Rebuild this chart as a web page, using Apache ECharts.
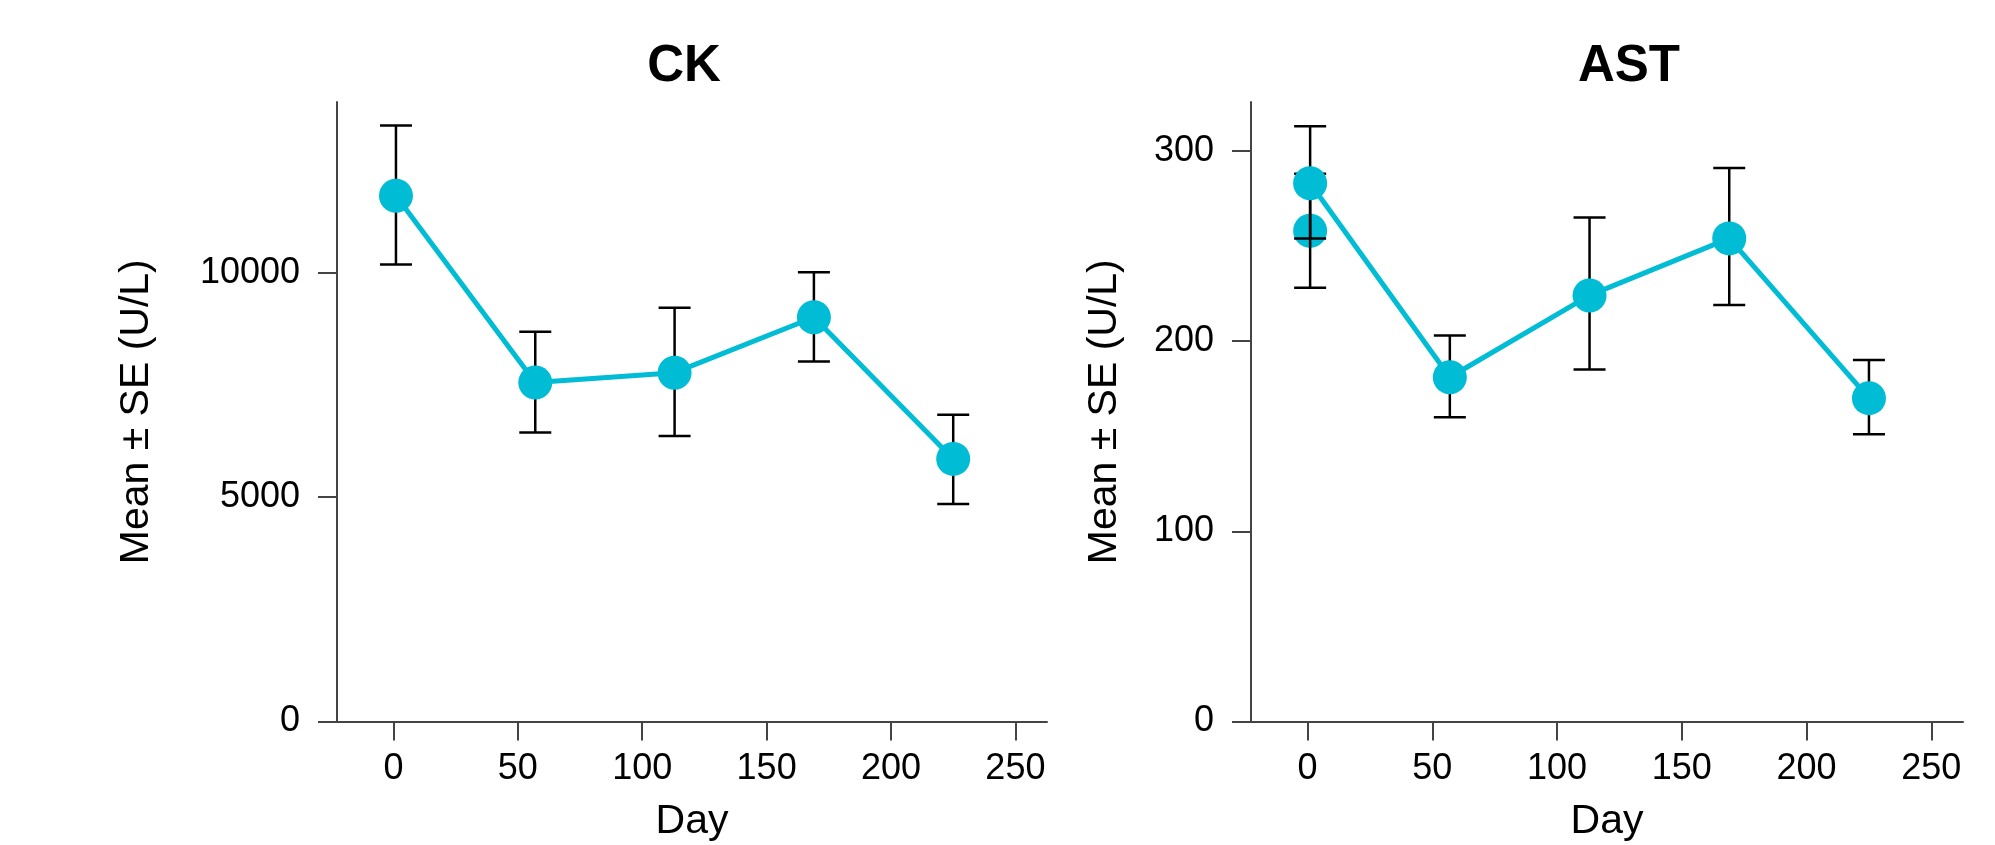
<!DOCTYPE html>
<html>
<head>
<meta charset="utf-8">
<script src="https://cdn.jsdelivr.net/npm/echarts@6/dist/echarts.min.js"></script>
<style>
  html, body { margin: 0; padding: 0; background: #fff; }
  #chart { width: 1995px; height: 845px; }
</style>
</head>
<body>
<div id="chart"></div>
<script>
// values
const days = [1, 57, 113, 169, 225];

const ckMean = [11710, 7550, 7770, 9005, 5850];
const ckUpper = [13275, 8680, 9215, 10010, 6835];
const ckLower = [10180, 6440, 6360, 8020, 4845];

const astMean = [283, 181, 224, 254, 170];
const astUpper = [313, 203, 265, 291, 190];
const astLower = [254, 160, 185, 219, 151];

// second day-1 point on AST (not joined to the line)
const astExtraDay = [1];
const astExtraMean = [258];
const astExtraUpper = [288];
const astExtraLower = [228];

const xTicks = [0, 50, 100, 150, 200, 250];
const ckTicks = [0, 5000, 10000];
const astTicks = [0, 100, 200, 300];

const teal = '#00BCD4';
const axisGrey = '#444';
const font = 'Liberation Sans, Arial, sans-serif';

const chart = echarts.init(document.getElementById('chart'));

function pairs(xs, ys) {
  return xs.map((x, i) => [x, ys[i]]);
}

function bars(xs, lo, hi) {
  return xs.map((x, i) => [x, lo[i], hi[i]]);
}

function errorBarItem(params, api) {
  const x = api.value(0);
  const lo = api.coord([x, api.value(1)]);
  const hi = api.coord([x, api.value(2)]);
  const half = 16;
  const style = { stroke: '#000', lineWidth: 2.5 };
  return {
    type: 'group',
    children: [
      { type: 'line', shape: { x1: lo[0], y1: hi[1], x2: lo[0], y2: lo[1] }, style },
      { type: 'line', shape: { x1: lo[0] - half, y1: hi[1], x2: lo[0] + half, y2: hi[1] }, style },
      { type: 'line', shape: { x1: lo[0] - half, y1: lo[1], x2: lo[0] + half, y2: lo[1] }, style }
    ]
  };
}

function xAxisFor(gridIndex) {
  return {
    type: 'value',
    gridIndex,
    min: -22.7,
    max: 262.7,
    name: 'Day',
    nameLocation: 'middle',
    nameGap: 80,
    nameTextStyle: { fontSize: 41, color: '#000', fontFamily: font },
    splitLine: { show: false },
    axisLine: { onZero: false, lineStyle: { color: axisGrey, width: 2 } },
    axisTick: { customValues: xTicks, length: 19, lineStyle: { color: axisGrey, width: 2 } },
    axisLabel: { customValues: xTicks, margin: 30, fontSize: 36, color: '#000', fontFamily: font,
      formatter: v => String(v) }
  };
}

function yAxisFor(gridIndex, max, ticks, gap) {
  return {
    type: 'value',
    gridIndex,
    min: 0,
    max,
    name: 'Mean ± SE (U/L)',
    nameLocation: 'middle',
    nameGap: gap,
    nameTextStyle: { fontSize: 41, color: '#000', fontFamily: font },
    splitLine: { show: false },
    axisLine: { show: true, onZero: false, lineStyle: { color: axisGrey, width: 2 } },
    axisTick: { show: true, customValues: ticks, length: 19, lineStyle: { color: axisGrey, width: 2 } },
    axisLabel: { customValues: ticks, margin: 37, fontSize: 36, color: '#000', fontFamily: font,
      formatter: v => String(v) }
  };
}

chart.setOption({
  animation: false,
  backgroundColor: '#fff',
  title: [
    { text: 'CK', left: 679, top: 36, textAlign: 'center',
      textStyle: { fontSize: 51, fontWeight: 'bold', color: '#000', fontFamily: font } },
    { text: 'AST', left: 1624, top: 36, textAlign: 'center',
      textStyle: { fontSize: 51, fontWeight: 'bold', color: '#000', fontFamily: font } }
  ],
  grid: [
    { left: 337, top: 102, width: 710, height: 619.5, outerBoundsMode: 'none' },
    { left: 1251, top: 102, width: 712, height: 619.5, outerBoundsMode: 'none' }
  ],
  xAxis: [xAxisFor(0), xAxisFor(1)],
  yAxis: [
    yAxisFor(0, 13800, ckTicks, 180),
    yAxisFor(1, 325.7, astTicks, 126)
  ],
  series: [
    {
      type: 'custom', xAxisIndex: 0, yAxisIndex: 0, z: 3,
      renderItem: errorBarItem,
      encode: { x: 0, y: [1, 2] },
      data: bars(days, ckLower, ckUpper)
    },
    {
      type: 'line', xAxisIndex: 0, yAxisIndex: 0, z: 4,
      symbol: 'circle', symbolSize: 34,
      itemStyle: { color: teal },
      lineStyle: { color: teal, width: 5 },
      data: pairs(days, ckMean)
    },
    {
      type: 'scatter', xAxisIndex: 1, yAxisIndex: 1, z: 1,
      symbol: 'circle', symbolSize: 34,
      itemStyle: { color: teal, opacity: 1 },
      data: pairs(astExtraDay, astExtraMean)
    },
    {
      type: 'custom', xAxisIndex: 1, yAxisIndex: 1, z: 2,
      renderItem: errorBarItem,
      encode: { x: 0, y: [1, 2] },
      data: bars(astExtraDay, astExtraLower, astExtraUpper)
    },
    {
      type: 'custom', xAxisIndex: 1, yAxisIndex: 1, z: 3,
      renderItem: errorBarItem,
      encode: { x: 0, y: [1, 2] },
      data: bars(days, astLower, astUpper)
    },
    {
      type: 'line', xAxisIndex: 1, yAxisIndex: 1, z: 4,
      symbol: 'circle', symbolSize: 34,
      itemStyle: { color: teal },
      lineStyle: { color: teal, width: 5 },
      data: pairs(days, astMean)
    }
  ]
});
</script>
</body>
</html>
